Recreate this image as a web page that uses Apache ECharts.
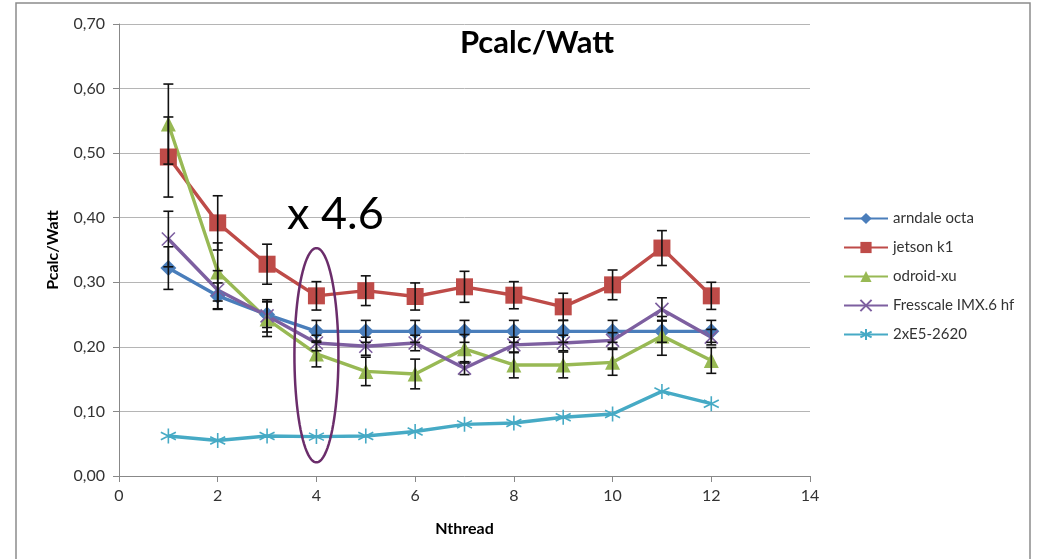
<!DOCTYPE html>
<html lang="en">
<head>
	<meta charset="UTF-8">
	<title>Pcalc/Watt</title>
	<style>
		html, body { margin: 0; padding: 0; background: #fff; }
	</style>
</head>
<body>
	<div id="container" style="width: 1046px;height:559px;"></div>

	<script src="https://cdn.jsdelivr.net/npm/echarts@6/dist/echarts.min.js"></script>
	<script>
        var nthread = [1, 2, 3, 4, 5, 6, 7, 8, 9, 10, 11, 12];
        var yTicks = [0, 0.1, 0.2, 0.3, 0.4, 0.5, 0.6, 0.7];

        var arndale = [0.322, 0.279, 0.250, 0.224, 0.224, 0.224, 0.224, 0.224, 0.224, 0.224, 0.224, 0.224];
        var jetson = [0.494, 0.392, 0.328, 0.279, 0.287, 0.278, 0.293, 0.280, 0.262, 0.296, 0.353, 0.279];
        var odroid = [0.545, 0.316, 0.243, 0.189, 0.162, 0.158, 0.197, 0.172, 0.172, 0.176, 0.217, 0.179];
        var fresscale = [0.367, 0.288, 0.248, 0.206, 0.201, 0.206, 0.167, 0.203, 0.206, 0.210, 0.258, 0.215];
        var e5 = [0.062, 0.055, 0.062, 0.061, 0.062, 0.069, 0.080, 0.082, 0.091, 0.096, 0.131, 0.112];

        // half-width of the error bars
        var arndaleErr = [0.033, 0.020, 0.020, 0.017, 0.017, 0.017, 0.017, 0.017, 0.017, 0.017, 0.017, 0.017];
        var jetsonErr = [0.062, 0.042, 0.031, 0.022, 0.023, 0.021, 0.024, 0.021, 0.021, 0.023, 0.027, 0.021];
        var odroidErr = [0.062, 0.045, 0.027, 0.020, 0.022, 0.023, 0.022, 0.020, 0.020, 0.020, 0.030, 0.020];
        var fresscaleErr = [0.043, 0.030, 0.025, 0.012, 0.014, 0.012, 0.010, 0.012, 0.012, 0.012, 0.018, 0.012];

        var names = ['arndale octa', 'jetson k1', 'odroid-xu', 'Fresscale IMX.6 hf', '2xE5-2620'];
        var colors = ['#4a7ebb', '#be4b48', '#98b954', '#7d5fa0', '#46aac5'];

        var crossPath = 'path://M0,0L10,10M10,0L0,10';
        var starPath = 'path://M5,0L5,10M0.7,2.5L9.3,7.5M9.3,2.5L0.7,7.5';
        var font = 'Lato, "Open Sans", sans-serif';

        function pairs(vals) {
            return vals.map(function (v, i) { return [nthread[i], v]; });
        }

        function errData(vals, errs) {
            return vals.map(function (v, i) { return [nthread[i], v - errs[i], v + errs[i]]; });
        }

        function errSeries(vals, errs) {
            return {
                type: 'custom',
                z: 5,
                silent: true,
                data: errData(vals, errs),
                renderItem: function (params, api) {
                    var lo = api.coord([api.value(0), api.value(1)]);
                    var hi = api.coord([api.value(0), api.value(2)]);
                    var w = 5;
                    var st = { stroke: '#111', lineWidth: 1.6 };
                    return {
                        type: 'group',
                        children: [
                            { type: 'line', shape: { x1: lo[0], y1: lo[1], x2: hi[0], y2: hi[1] }, style: st },
                            { type: 'line', shape: { x1: lo[0] - w, y1: lo[1], x2: lo[0] + w, y2: lo[1] }, style: st },
                            { type: 'line', shape: { x1: hi[0] - w, y1: hi[1], x2: hi[0] + w, y2: hi[1] }, style: st }
                        ]
                    };
                }
            };
        }

        function lineSeries(idx, vals, symbol, size, stroke) {
            var s = {
                name: names[idx],
                type: 'line',
                data: pairs(vals),
                symbol: symbol,
                symbolSize: size,
                showAllSymbol: true,
                z: 3,
                lineStyle: { color: colors[idx], width: 3.4 },
                itemStyle: { color: colors[idx] }
            };
            if (stroke) {
                s.itemStyle.borderColor = colors[idx];
                s.itemStyle.borderWidth = 1.6;
            }
            return s;
        }

        // annotation ellipse round Nthread = 4, drawn by a custom series in data coords
        var ellipseSeries = {
            type: 'custom',
            z: 10,
            silent: true,
            data: [[4, 0.187, 0.353]],
            renderItem: function (params, api) {
                var c = api.coord([api.value(0), api.value(1)]);
                var t = api.coord([api.value(0), api.value(2)]);
                var ry = c[1] - t[1];
                var rx = 22;
                var pts = [];
                for (var k = 0; k < 90; k++) {
                    var a = k / 90 * Math.PI * 2;
                    pts.push([c[0] + rx * Math.cos(a), c[1] + ry * Math.sin(a)]);
                }
                return {
                    type: 'polygon',
                    shape: { points: pts },
                    style: { fill: 'none', stroke: '#6b2d6b', lineWidth: 2.5 }
                };
            }
        };

        var option = {
            animation: false,
            backgroundColor: '#fff',
            title: {
                text: 'Pcalc/Watt',
                left: 532,
                top: 22,
                textAlign: 'center',
                textStyle: { fontFamily: font, fontSize: 31, fontWeight: 'bold', color: '#000' }
            },
            legend: {
                orient: 'vertical',
                left: 838,
                top: 206,
                itemGap: 14,
                itemWidth: 44,
                itemHeight: 14,
                data: names,
                textStyle: { fontFamily: font, fontSize: 15, color: '#333' }
            },
            grid: { left: 119, right: 236, top: 24, bottom: 83 },
            xAxis: {
                type: 'value',
                min: 0,
                max: 14,
                interval: 2,
                name: 'Nthread',
                nameLocation: 'middle',
                nameGap: 45,
                nameTextStyle: { fontFamily: font, fontSize: 16, fontWeight: 'bold', color: '#000' },
                axisLine: { onZero: false, lineStyle: { color: '#888' } },
                axisTick: { show: true, length: 6, lineStyle: { color: '#888' } },
                axisLabel: { fontFamily: font, fontSize: 16, color: '#333', margin: 12 },
                splitLine: { show: false }
            },
            yAxis: {
                type: 'value',
                min: 0,
                max: 0.7,
                interval: 0.1,
                name: 'Pcalc/Watt',
                nameLocation: 'middle',
                nameRotate: 90,
                nameGap: 58,
                nameTextStyle: { fontFamily: font, fontSize: 16, fontWeight: 'bold', color: '#000' },
                axisLine: { show: true, lineStyle: { color: '#888' } },
                axisTick: { show: true, length: 6, lineStyle: { color: '#888' } },
                axisLabel: {
                    fontFamily: font, fontSize: 16, color: '#333', margin: 14,
                    formatter: function (v) {
                        var t = yTicks.filter(function (k) { return Math.abs(k - v) < 1e-6; });
                        return (t.length ? t[0] : v).toFixed(2).replace('.', ',');
                    }
                },
                splitLine: { show: true, lineStyle: { color: '#b5b5b5', width: 1 } }
            },
            graphic: [
                {
                    type: 'rect',
                    shape: { x: 16, y: 3, width: 1014, height: 600 },
                    style: { fill: 'none', stroke: '#8c8c8c', lineWidth: 1.5 },
                    z: -1
                },
                {
                    type: 'text',
                    left: 287,
                    top: 192,
                    style: { text: 'x 4.6', fontFamily: font, fontSize: 45, fill: '#000' },
                    z: 10
                }
            ],
            series: [
                lineSeries(0, arndale, 'diamond', 16, false),
                lineSeries(1, jetson, 'rect', 17, false),
                lineSeries(2, odroid, 'triangle', 15, false),
                lineSeries(3, fresscale, crossPath, 13, true),
                lineSeries(4, e5, starPath, 15, true),
                errSeries(arndale, arndaleErr),
                errSeries(jetson, jetsonErr),
                errSeries(odroid, odroidErr),
                errSeries(fresscale, fresscaleErr),
                ellipseSeries
            ]
        };

        var myChart = echarts.init(document.getElementById('container'));
        myChart.setOption(option);
    </script>
</body>
</html>
